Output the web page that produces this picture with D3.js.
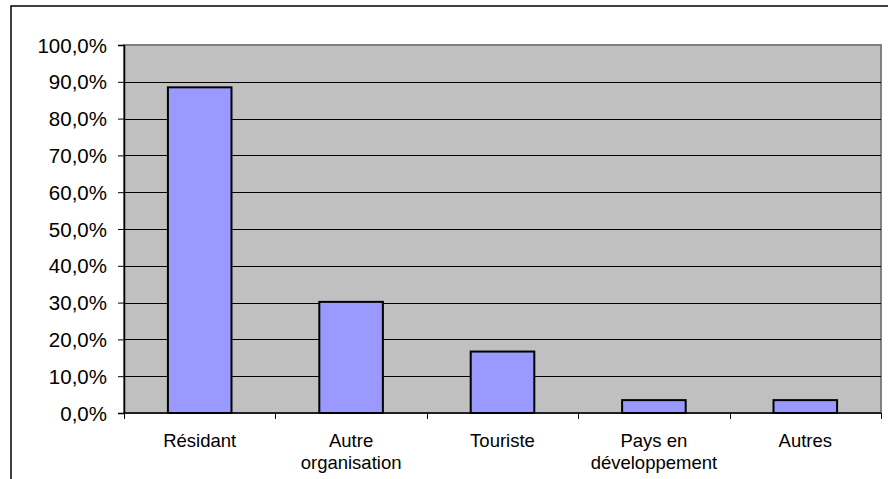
<!DOCTYPE html>
<html>
<head>
<meta charset="utf-8">
<script src="https://d3js.org/d3.v7.min.js"></script>
<style>
  body { margin: 0; background: #fff; }
  text { font-family: "Liberation Sans", Arial, sans-serif; fill: #000; }
</style>
</head>
<body>
<script>
// data
var categories = ["Résidant", "Autre organisation", "Touriste", "Pays en développement", "Autres"];
var labelLines = [["Résidant"], ["Autre", "organisation"], ["Touriste"], ["Pays en", "développement"], ["Autres"]];
var values = [0.885, 0.302, 0.167, 0.035, 0.035];
var yTicks = [0, 0.1, 0.2, 0.3, 0.4, 0.5, 0.6, 0.7, 0.8, 0.9, 1.0];

var W = 888, H = 479;
var plot = { left: 124, top: 45, right: 881, bottom: 413 };

var svg = d3.select("body").append("svg")
    .attr("width", W)
    .attr("height", H);

// outer chart frame (runs off the right and bottom of the window)
svg.append("rect")
    .attr("x", 11).attr("y", 6)
    .attr("width", 1000).attr("height", 600)
    .attr("fill", "#fff")
    .attr("stroke", "#000")
    .attr("stroke-width", 1.5);

var x = d3.scaleBand()
    .domain(categories)
    .range([plot.left, plot.right])
    .paddingInner(0.58)
    .paddingOuter(0.29);

var y = d3.scaleLinear()
    .domain([0, 1])
    .range([plot.bottom, plot.top]);

// plot background
svg.append("rect")
    .attr("x", plot.left).attr("y", plot.top)
    .attr("width", plot.right - plot.left)
    .attr("height", plot.bottom - plot.top)
    .attr("fill", "#c0c0c0")
    .attr("stroke", "#808080")
    .attr("stroke-width", 2);

// gridlines
svg.append("g")
    .selectAll("line")
    .data(yTicks.filter(function (d) { return d > 0 && d < 1; }))
    .enter().append("line")
    .attr("x1", plot.left).attr("x2", plot.right)
    .attr("y1", function (d) { return Math.round(y(d)) + 0.5; })
    .attr("y2", function (d) { return Math.round(y(d)) + 0.5; })
    .attr("stroke", "#000")
    .attr("stroke-width", 1);

// bars
svg.append("g")
    .selectAll("rect")
    .data(values)
    .enter().append("rect")
    .attr("x", function (d, i) { return x(categories[i]); })
    .attr("y", function (d) { return y(d); })
    .attr("width", x.bandwidth())
    .attr("height", function (d) { return y(0) - y(d); })
    .attr("fill", "#9999ff")
    .attr("stroke", "#000")
    .attr("stroke-width", 2);

// y axis
var fmt = function (d) { return (d * 100).toFixed(1).replace(".", ",") + "%"; };
var yAxis = svg.append("g")
    .attr("transform", "translate(" + plot.left + ",0)")
    .call(d3.axisLeft(y).tickValues(yTicks).tickFormat(fmt).tickSize(6).tickPadding(11));
yAxis.selectAll("line").attr("stroke", "#000");
yAxis.select(".domain").attr("stroke", "#000").attr("stroke-width", 1.5);
yAxis.selectAll("text")
    .style("font-family", "'Liberation Sans', Arial, sans-serif")
    .style("font-size", "20.5px")
    .attr("dy", "0.35em");

// x axis: ticks between categories
var bounds = d3.range(categories.length + 1).map(function (i) { return plot.left + i * (plot.right - plot.left) / categories.length; });
svg.append("line")
    .attr("x1", plot.left).attr("x2", plot.right)
    .attr("y1", plot.bottom).attr("y2", plot.bottom)
    .attr("stroke", "#000").attr("stroke-width", 1.5);
svg.append("g")
    .selectAll("line")
    .data(bounds)
    .enter().append("line")
    .attr("x1", function (d) { return Math.round(d) + 0.5; })
    .attr("x2", function (d) { return Math.round(d) + 0.5; })
    .attr("y1", plot.bottom).attr("y2", plot.bottom + 6)
    .attr("stroke", "#000");

// category labels
var lbl = svg.append("g")
    .selectAll("text")
    .data(categories)
    .enter().append("text")
    .attr("x", function (d) { return x(d) + x.bandwidth() / 2; })
    .attr("y", 447)
    .attr("text-anchor", "middle")
    .style("font-size", "18.5px");
lbl.each(function (d, i) {
    var t = d3.select(this);
    labelLines[i].forEach(function (s, j) {
        t.append("tspan")
            .attr("x", x(d) + x.bandwidth() / 2)
            .attr("dy", j === 0 ? 0 : 21.5)
            .text(s);
    });
});
</script>
</body>
</html>
